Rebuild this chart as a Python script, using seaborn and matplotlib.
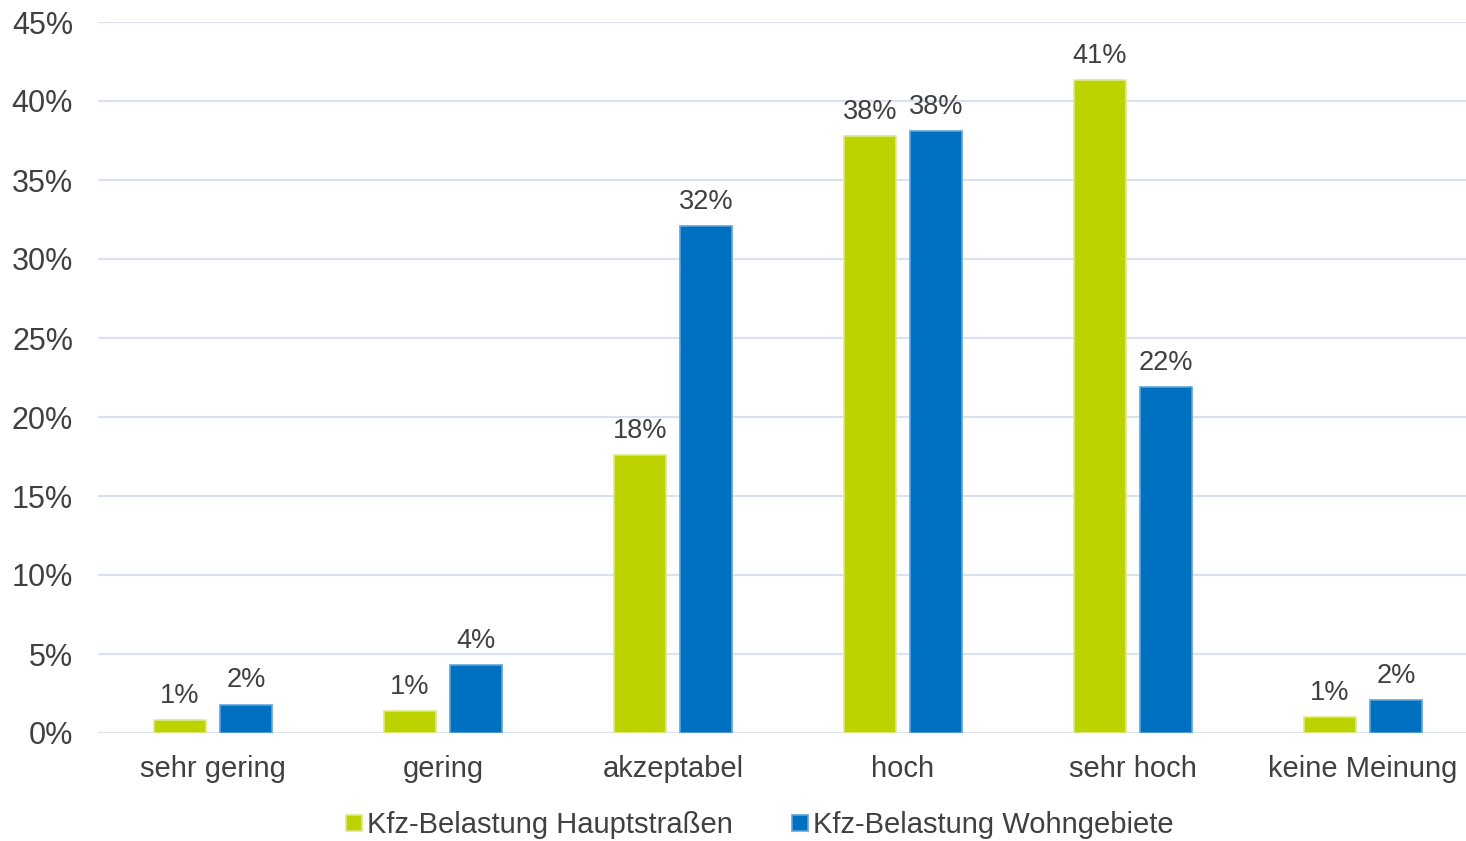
import matplotlib
matplotlib.use("Agg")
import matplotlib.pyplot as plt
import pandas as pd
import seaborn as sns
from matplotlib.lines import Line2D

categories = ["sehr gering", "gering", "akzeptabel", "hoch", "sehr hoch", "keine Meinung"]
series = ["Kfz-Belastung Hauptstraßen", "Kfz-Belastung Wohngebiete"]
hauptstrassen = [0.8, 1.4, 17.6, 37.8, 41.3, 1.0]
wohngebiete = [1.8, 4.3, 32.1, 38.1, 21.9, 2.1]

colors = ["#BDD300", "#0070C0"]
edges = ["#DDE98A", "#5FA4DA"]
grid_col = "#D9E2F3"
text_col = "#404040"

df = pd.DataFrame({
    "Kategorie": categories * 2,
    "Wert": hauptstrassen + wohngebiete,
    "Serie": [series[0]] * len(categories) + [series[1]] * len(categories),
})

sns.set_style("white")
plt.rcParams["font.family"] = ["Liberation Sans", "DejaVu Sans"]

fig = plt.figure(figsize=(14.66, 8.41), dpi=100)
ax = fig.add_axes([98 / 1466, 1 - 733 / 841, 1380 / 1466, (733 - 22) / 841])

sns.barplot(data=df, x="Kategorie", y="Wert", hue="Serie", order=categories,
            hue_order=series, palette=colors, saturation=1, width=0.574, gap=0.21,
            ax=ax, legend=False, zorder=3)

for cont, ec in zip(ax.containers, edges):
    for bar in cont:
        bar.set_edgecolor(ec)
        bar.set_linewidth(1.2)
    ax.bar_label(cont, labels=[f"{round(b.get_height()):.0f}%" for b in cont],
                 padding=8, fontsize=19.5, color=text_col)

ax.set_ylim(0, 45)
ax.set_xlim(-0.5, 5.5)
ax.set_yticks(range(0, 46, 5))
ax.set_yticklabels([f"{v}%" for v in range(0, 46, 5)])
ax.yaxis.grid(True, color=grid_col, linewidth=1.5, zorder=0)
ax.set_axisbelow(True)
for s in ax.spines.values():
    s.set_visible(False)
ax.tick_params(axis="both", length=0, labelsize=21, colors=text_col)
ax.tick_params(axis="y", labelsize=22, pad=18)
ax.tick_params(axis="x", pad=16)
ax.set_xlabel("")
ax.set_ylabel("")

handles = [Line2D([], [], marker="s", linestyle="", markersize=11,
                  markerfacecolor=c, markeredgecolor=e, markeredgewidth=1.2)
           for c, e in zip(colors, edges)]
fig.legend(handles, series, loc="center", bbox_to_anchor=(757 / 1466, 1 - 825 / 841),
           ncol=2, frameon=False, fontsize=21, labelcolor=text_col,
           handletextpad=0.0, columnspacing=1.85, handlelength=0.9)

fig.savefig("out.png", dpi=100)
